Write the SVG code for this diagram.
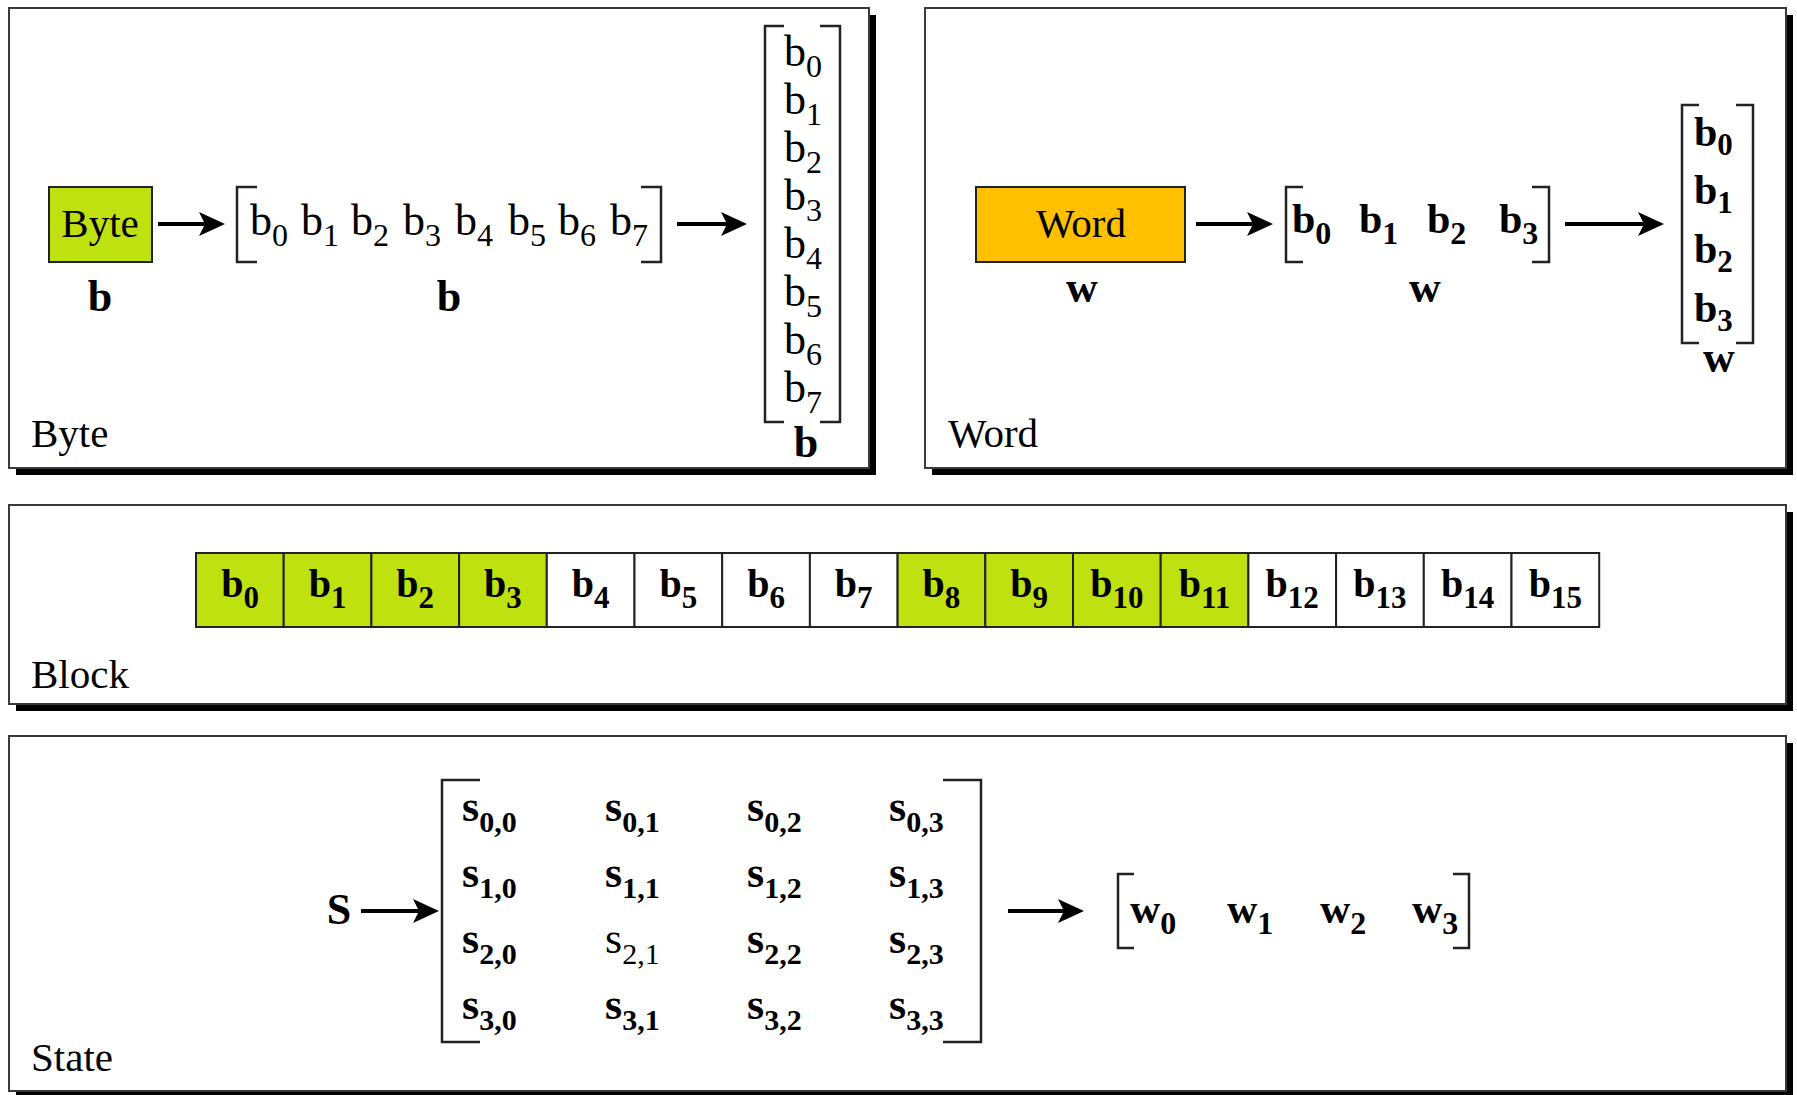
<svg xmlns="http://www.w3.org/2000/svg" width="1797" height="1095" viewBox="0 0 1797 1095">
<style>
text{font-family:"Liberation Serif","Times New Roman",serif;fill:#000}
.bd{font-weight:bold}
.panel{fill:#fff;stroke:#3a3a3a;stroke-width:2}
.shadow{fill:#000}
.brk{fill:none;stroke:#222;stroke-width:2.5}
.arr{stroke:#000;stroke-width:4;marker-end:url(#ah)}
.lbl{font-size:41px}
.m{font-size:44px}
.s{font-size:32px}
.cell{stroke:#222;stroke-width:2}
.g{fill:#bfe10f}
.w{fill:#fff}
.ct{font-size:40px;font-weight:bold;text-anchor:middle}
.cs{font-size:31px}
.st{font-size:44px;font-weight:bold}
.ss{font-size:30px}
</style>
<defs>
<marker id="ah" markerUnits="userSpaceOnUse" markerWidth="26" markerHeight="24" refX="17" refY="12" orient="auto">
<path d="M0,0 L26,12 L0,24 L6,12 z" fill="#000"/>
</marker>
</defs>
<rect width="1797" height="1095" fill="#fff"/>

<g id="panel-byte">
<rect class="shadow" x="16" y="15" width="860" height="460"/>
<rect class="panel" x="9" y="8" width="860" height="460"/>
<text class="lbl" x="31" y="447">Byte</text>
</g>
<g id="panel-word">
<rect class="shadow" x="932" y="15" width="861" height="460"/>
<rect class="panel" x="925" y="8" width="861" height="460"/>
<text class="lbl" x="948" y="447">Word</text>
</g>
<g id="panel-block">
<rect class="shadow" x="16" y="512" width="1777" height="199"/>
<rect class="panel" x="9" y="505" width="1777" height="199"/>
<text class="lbl" x="31" y="688">Block</text>
</g>
<g id="panel-state">
<rect class="shadow" x="16" y="743" width="1777" height="355"/>
<rect class="panel" x="9" y="736" width="1777" height="355"/>
<text class="lbl" x="31" y="1071">State</text>
</g>

<!-- Byte panel -->
<g id="byte-box">
<rect x="49" y="187" width="103" height="75" fill="#bfe10f" stroke="#222" stroke-width="2"/>
<text class="lbl" x="100" y="237" text-anchor="middle">Byte</text>
<text class="bd" x="100" y="311" font-size="44" text-anchor="middle">b</text>
</g>
<g id="byte-row">
<path class="brk" d="M257,187 H237 V262 H257"/>
<path class="brk" d="M641,187 H661 V262 H641"/>
<text class="m" x="250" y="235">b<tspan class="s" dy="11">0</tspan></text>
<text class="m" x="301" y="235">b<tspan class="s" dy="11">1</tspan></text>
<text class="m" x="351" y="235">b<tspan class="s" dy="11">2</tspan></text>
<text class="m" x="403" y="235">b<tspan class="s" dy="11">3</tspan></text>
<text class="m" x="455" y="235">b<tspan class="s" dy="11">4</tspan></text>
<text class="m" x="508" y="235">b<tspan class="s" dy="11">5</tspan></text>
<text class="m" x="558" y="235">b<tspan class="s" dy="11">6</tspan></text>
<text class="m" x="610" y="235">b<tspan class="s" dy="11">7</tspan></text>
<text class="bd" x="449" y="311" font-size="44" text-anchor="middle">b</text>
</g>
<g id="byte-column">
<path class="brk" d="M784,26 H765 V422 H784"/>
<path class="brk" d="M820,26 H840 V422 H820"/>
<text class="m" x="784" y="66">b<tspan class="s" dy="11">0</tspan></text>
<text class="m" x="784" y="114">b<tspan class="s" dy="11">1</tspan></text>
<text class="m" x="784" y="162">b<tspan class="s" dy="11">2</tspan></text>
<text class="m" x="784" y="210">b<tspan class="s" dy="11">3</tspan></text>
<text class="m" x="784" y="258">b<tspan class="s" dy="11">4</tspan></text>
<text class="m" x="784" y="306">b<tspan class="s" dy="11">5</tspan></text>
<text class="m" x="784" y="354">b<tspan class="s" dy="11">6</tspan></text>
<text class="m" x="784" y="402">b<tspan class="s" dy="11">7</tspan></text>
<text class="bd" x="806" y="457" font-size="44" text-anchor="middle">b</text>
</g>

<!-- Word panel -->
<g id="word-box">
<rect x="976" y="187" width="209" height="75" fill="#ffc000" stroke="#222" stroke-width="2"/>
<text class="lbl" x="1081" y="237" text-anchor="middle">Word</text>
<text class="bd" x="1082" y="302" font-size="44" text-anchor="middle">w</text>
</g>
<g id="word-row">
<path class="brk" d="M1303,187 H1286 V262 H1303"/>
<path class="brk" d="M1532,187 H1549 V262 H1532"/>
<text class="bd" font-size="42" x="1292" y="233">b<tspan font-size="32" dy="11">0</tspan></text>
<text class="bd" font-size="42" x="1359" y="233">b<tspan font-size="32" dy="11">1</tspan></text>
<text class="bd" font-size="42" x="1427" y="233">b<tspan font-size="32" dy="11">2</tspan></text>
<text class="bd" font-size="42" x="1499" y="233">b<tspan font-size="32" dy="11">3</tspan></text>
<text class="bd" x="1425" y="302" font-size="44" text-anchor="middle">w</text>
</g>
<g id="word-column">
<path class="brk" d="M1699,105 H1682 V343 H1699"/>
<path class="brk" d="M1736,105 H1753 V343 H1736"/>
<text class="bd" font-size="42" x="1694" y="146">b<tspan font-size="31" dy="9">0</tspan></text>
<text class="bd" font-size="42" x="1694" y="204">b<tspan font-size="31" dy="9">1</tspan></text>
<text class="bd" font-size="42" x="1694" y="263">b<tspan font-size="31" dy="9">2</tspan></text>
<text class="bd" font-size="42" x="1694" y="322">b<tspan font-size="31" dy="9">3</tspan></text>
<text class="bd" x="1719" y="372" font-size="44" text-anchor="middle">w</text>
</g>

<!-- Block panel -->
<g id="block-cells">
<rect class="cell g" x="196" y="553" width="87.7" height="74"/>
<rect class="cell g" x="283.7" y="553" width="87.7" height="74"/>
<rect class="cell g" x="371.4" y="553" width="87.7" height="74"/>
<rect class="cell g" x="459.1" y="553" width="87.7" height="74"/>
<rect class="cell w" x="546.8" y="553" width="87.7" height="74"/>
<rect class="cell w" x="634.5" y="553" width="87.7" height="74"/>
<rect class="cell w" x="722.2" y="553" width="87.7" height="74"/>
<rect class="cell w" x="809.9" y="553" width="87.7" height="74"/>
<rect class="cell g" x="897.6" y="553" width="87.7" height="74"/>
<rect class="cell g" x="985.3" y="553" width="87.7" height="74"/>
<rect class="cell g" x="1073" y="553" width="87.7" height="74"/>
<rect class="cell g" x="1160.7" y="553" width="87.7" height="74"/>
<rect class="cell w" x="1248.4" y="553" width="87.7" height="74"/>
<rect class="cell w" x="1336.1" y="553" width="87.7" height="74"/>
<rect class="cell w" x="1423.8" y="553" width="87.7" height="74"/>
<rect class="cell w" x="1511.5" y="553" width="87.7" height="74"/>
<text class="ct" x="240" y="597">b<tspan class="cs" dy="11">0</tspan></text>
<text class="ct" x="327.5" y="597">b<tspan class="cs" dy="11">1</tspan></text>
<text class="ct" x="415.2" y="597">b<tspan class="cs" dy="11">2</tspan></text>
<text class="ct" x="502.9" y="597">b<tspan class="cs" dy="11">3</tspan></text>
<text class="ct" x="590.6" y="597">b<tspan class="cs" dy="11">4</tspan></text>
<text class="ct" x="678.3" y="597">b<tspan class="cs" dy="11">5</tspan></text>
<text class="ct" x="766" y="597">b<tspan class="cs" dy="11">6</tspan></text>
<text class="ct" x="853.7" y="597">b<tspan class="cs" dy="11">7</tspan></text>
<text class="ct" x="941.4" y="597">b<tspan class="cs" dy="11">8</tspan></text>
<text class="ct" x="1029.1" y="597">b<tspan class="cs" dy="11">9</tspan></text>
<text class="ct" x="1116.8" y="597">b<tspan class="cs" dy="11">10</tspan></text>
<text class="ct" x="1204.5" y="597">b<tspan class="cs" dy="11">11</tspan></text>
<text class="ct" x="1292.2" y="597">b<tspan class="cs" dy="11">12</tspan></text>
<text class="ct" x="1379.9" y="597">b<tspan class="cs" dy="11">13</tspan></text>
<text class="ct" x="1467.6" y="597">b<tspan class="cs" dy="11">14</tspan></text>
<text class="ct" x="1555.3" y="597">b<tspan class="cs" dy="11">15</tspan></text>
</g>

<!-- State panel -->
<g id="state-s">
<text class="bd" x="339" y="924" font-size="44" text-anchor="middle">S</text>
</g>
<g id="state-matrix">
<path class="brk" d="M480,780 H442 V1042 H480"/>
<path class="brk" d="M943,780 H981 V1042 H943"/>
<text class="st" x="462" y="821">s<tspan class="ss" dy="11">0,0</tspan></text>
<text class="st" x="605" y="821">s<tspan class="ss" dy="11">0,1</tspan></text>
<text class="st" x="747" y="821">s<tspan class="ss" dy="11">0,2</tspan></text>
<text class="st" x="889" y="821">s<tspan class="ss" dy="11">0,3</tspan></text>
<text class="st" x="462" y="887">s<tspan class="ss" dy="11">1,0</tspan></text>
<text class="st" x="605" y="887">s<tspan class="ss" dy="11">1,1</tspan></text>
<text class="st" x="747" y="887">s<tspan class="ss" dy="11">1,2</tspan></text>
<text class="st" x="889" y="887">s<tspan class="ss" dy="11">1,3</tspan></text>
<text class="st" x="462" y="953">s<tspan class="ss" dy="11">2,0</tspan></text>
<text x="605" y="953" font-size="44">s<tspan class="ss" dy="11">2,1</tspan></text>
<text class="st" x="747" y="953">s<tspan class="ss" dy="11">2,2</tspan></text>
<text class="st" x="889" y="953">s<tspan class="ss" dy="11">2,3</tspan></text>
<text class="st" x="462" y="1019">s<tspan class="ss" dy="11">3,0</tspan></text>
<text class="st" x="605" y="1019">s<tspan class="ss" dy="11">3,1</tspan></text>
<text class="st" x="747" y="1019">s<tspan class="ss" dy="11">3,2</tspan></text>
<text class="st" x="889" y="1019">s<tspan class="ss" dy="11">3,3</tspan></text>
</g>
<g id="state-words">
<path class="brk" d="M1134,874 H1118 V948 H1134"/>
<path class="brk" d="M1453,874 H1469 V948 H1453"/>
<text class="bd" font-size="42" x="1130" y="923">w<tspan font-size="32" dy="11">0</tspan></text>
<text class="bd" font-size="42" x="1227" y="923">w<tspan font-size="32" dy="11">1</tspan></text>
<text class="bd" font-size="42" x="1320" y="923">w<tspan font-size="32" dy="11">2</tspan></text>
<text class="bd" font-size="42" x="1412" y="923">w<tspan font-size="32" dy="11">3</tspan></text>
</g>

<g id="connectors">
<line class="arr" x1="158" y1="224" x2="216" y2="224"/>
<line class="arr" x1="677" y1="224" x2="738" y2="224"/>
<line class="arr" x1="1196" y1="224" x2="1264" y2="224"/>
<line class="arr" x1="1565" y1="224" x2="1655" y2="224"/>
<line class="arr" x1="361" y1="911" x2="430" y2="911"/>
<line class="arr" x1="1008" y1="911" x2="1075" y2="911"/>
</g>
</svg>
